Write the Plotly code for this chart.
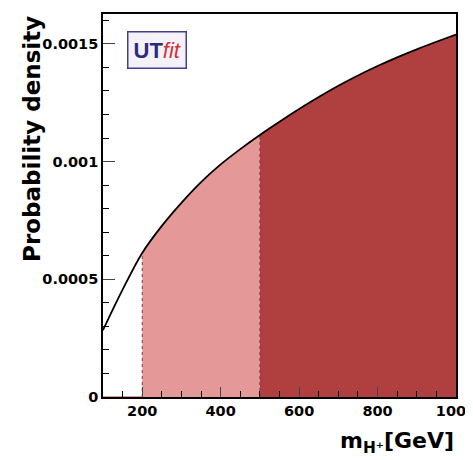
import plotly.graph_objects as go

# data
mass = [100, 150, 200, 250, 300, 350, 400, 450, 500, 550, 600, 650, 700,
        750, 800, 850, 900, 950, 1000]
density = [0.000284, 0.000456, 0.000612, 0.000727, 0.000825, 0.000913, 0.000988,
           0.001053, 0.001113, 0.001169, 0.001223, 0.001274, 0.001322,
           0.001366, 0.001406, 0.001443, 0.001477, 0.001509, 0.001540]
band_edges = [200, 500, 1000]
band_colors = ["rgb(228,152,152)", "rgb(176,64,64)"]
ytick_vals = [0, 0.0005, 0.001, 0.0015]
ytick_text = ["0", "0.0005", "0.001", "0.0015"]
xtick_vals = [200, 400, 600, 800, 1000]

fig = go.Figure()
for i in range(2):
    lo, hi = band_edges[i], band_edges[i + 1]
    sx = [m for m in mass if lo <= m <= hi]
    sy = [d for m, d in zip(mass, density) if lo <= m <= hi]
    fig.add_trace(go.Scatter(x=sx, y=sy, mode="lines", fill="tozeroy", line_shape="spline",
                             line=dict(width=0, color=band_colors[i]),
                             fillcolor=band_colors[i], hoverinfo="skip"))
    fig.add_trace(go.Scatter(x=[lo, lo], y=[0, sy[0]], mode="lines",
                             line=dict(color="rgb(120,60,60)", width=1, dash="dot"),
                             hoverinfo="skip"))
fig.add_trace(go.Scatter(x=[mass[0], band_edges[0]], y=[0, 0], mode="lines",
                         line=dict(color=band_colors[0], width=2), hoverinfo="skip"))
fig.add_trace(go.Scatter(x=mass, y=density, mode="lines", line_shape="spline",
                         line=dict(color="black", width=1.8)))

font = "DejaVu Sans, Arial, sans-serif"
fig.update_layout(
    width=473, height=460, showlegend=False,
    margin=dict(l=95, r=25, t=4, b=71),
    plot_bgcolor="white", paper_bgcolor="white",
    font=dict(family=font, color="black"),
    xaxis=dict(range=[100, 1000], tickvals=xtick_vals, ticks="inside", ticklen=10,
               tickwidth=1.2, showgrid=False, zeroline=False, showline=True,
               linecolor="black", linewidth=1.6, mirror=True,
               tickfont=dict(size=14.5, family=font, weight="bold"),
               minor=dict(dtick=50, ticks="inside", ticklen=6, tickcolor="black", tickwidth=1.2)),
    yaxis=dict(range=[0, 0.001627], tickvals=ytick_vals, ticktext=ytick_text,
               ticks="inside", ticklen=12, tickwidth=1.2, showgrid=False, zeroline=False,
               showline=True, linecolor="black", linewidth=1.6, mirror=True,
               tickfont=dict(size=14.5, family=font, weight="bold"),
               minor=dict(dtick=0.0001, ticks="inside", ticklen=6, tickcolor="black", tickwidth=1.2)),
)
fig.add_annotation(xref="paper", yref="paper", x=1.0, y=-0.075, xanchor="right", yanchor="top",
                   text="<b>m<sub>H⁺</sub>[GeV]</b>", showarrow=False,
                   font=dict(size=22, family=font))
fig.add_annotation(xref="paper", yref="paper", x=-0.201, y=0.674, xanchor="center", yanchor="middle",
                   text="<b>Probability density</b>", textangle=-90, showarrow=False,
                   font=dict(size=23, family=font))
fig.add_annotation(xref="paper", yref="paper", x=0.068, y=0.955, xanchor="left", yanchor="top",
                   text="<span style='color:#2b2b80'><b>UT</b></span><span style='color:#d8303a'><i>fit</i></span>",
                   showarrow=False, font=dict(size=22, family="Liberation Sans, Arial, sans-serif"),
                   bordercolor="#404090", borderwidth=1.5, bgcolor="#f4f2f8", borderpad=5)
fig.write_html("out.html")
